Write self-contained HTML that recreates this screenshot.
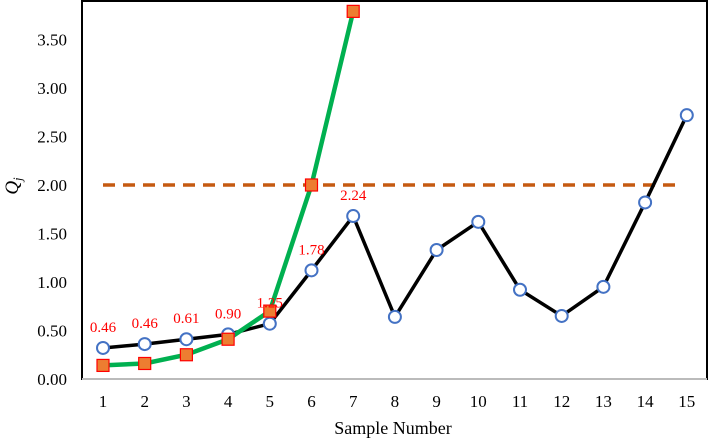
<!DOCTYPE html>
<html><head><meta charset="utf-8"><style>
html,body{margin:0;padding:0;background:#fff;}
svg{display:block;font-family:"Liberation Serif",serif;}
</style></head><body>
<svg id="chart" width="709" height="439"></svg>
<script>
const categories=[1,2,3,4,5,6,7,8,9,10,11,12,13,14,15];
const seriesA=[0.32,0.36,0.41,0.46,0.57,1.12,1.68,0.64,1.33,1.62,0.92,0.65,0.95,1.82,2.72];
const seriesB=[0.14,0.16,0.25,0.41,0.70,2.00,3.79];
const labelValues=["0.46","0.46","0.61","0.90","1.25","1.78","2.24"];
const yTicks=[0,0.5,1,1.5,2,2.5,3,3.5];
const threshold=2.0;

const NS="http://www.w3.org/2000/svg";
const svg=document.getElementById('chart');
const L=82,R=707,T=1,B=379;
function x(c){return 103+(c-1)*41.7;}
function y(v){return 379-97*v;}
function mk(tag,attrs,parent){const e=document.createElementNS(NS,tag);for(const k in attrs)e.setAttribute(k,attrs[k]);(parent||svg).appendChild(e);return e;}

let frame=mk('rect',{x:L,y:T,width:R-L,height:B-T,fill:'none',stroke:'#000','stroke-width':2});


let xa=mk('line',{x1:L,y1:B,x2:R,y2:B,stroke:'#bbb','stroke-width':2});



yTicks.forEach(v=>{
  const t=mk('text',{x:67,y:y(v)+6,'text-anchor':'end','font-size':17,fill:'#000'});
  t.textContent=v.toFixed(2);
  
  
});
categories.forEach(c=>{
  const t=mk('text',{x:x(c),y:407,'text-anchor':'middle','font-size':17,fill:'#000'});
  t.textContent=c;
  
  
});
let xt=mk('text',{x:393,y:434,'text-anchor':'middle','font-size':18,fill:'#000'});
xt.textContent='Sample Number';


let yt=mk('text',{x:0,y:0,transform:'translate(18,186) rotate(-90)','text-anchor':'middle','font-size':19,'font-style':'italic',fill:'#000'});
yt.innerHTML='Q<tspan font-size="13" dy="4">j</tspan>';



let dl=mk('line',{x1:x(1),y1:y(threshold),x2:x(14.88),y2:y(threshold),stroke:'#c55a11','stroke-width':3.5,'stroke-dasharray':'12 8'});



let pa=mk('polyline',{points:seriesA.map((v,i)=>x(categories[i])+','+y(v)).join(' '),fill:'none',stroke:'#000','stroke-width':3.5});


let pb=mk('polyline',{points:seriesB.map((v,i)=>x(categories[i])+','+y(v)).join(' '),fill:'none',stroke:'#00b050','stroke-width':4.5});



seriesA.forEach((v,i)=>{
  const c=mk('circle',{cx:x(categories[i]),cy:y(v),r:6,fill:'#fff',stroke:'#4472c4','stroke-width':2});
  
  
});
seriesB.forEach((v,i)=>{
  const r=mk('rect',{x:x(categories[i])-6,y:y(v)-6,width:12,height:12,fill:'#ed7d31',stroke:'#ff0000','stroke-width':1.2});
  
  
});
labelValues.forEach((s,i)=>{
  const t=mk('text',{x:x(categories[i]),y:y(seriesA[i])-16,'text-anchor':'middle','font-size':15,fill:'#ff0000'});
  t.textContent=s;
  
  
});
</script>
</body></html>
